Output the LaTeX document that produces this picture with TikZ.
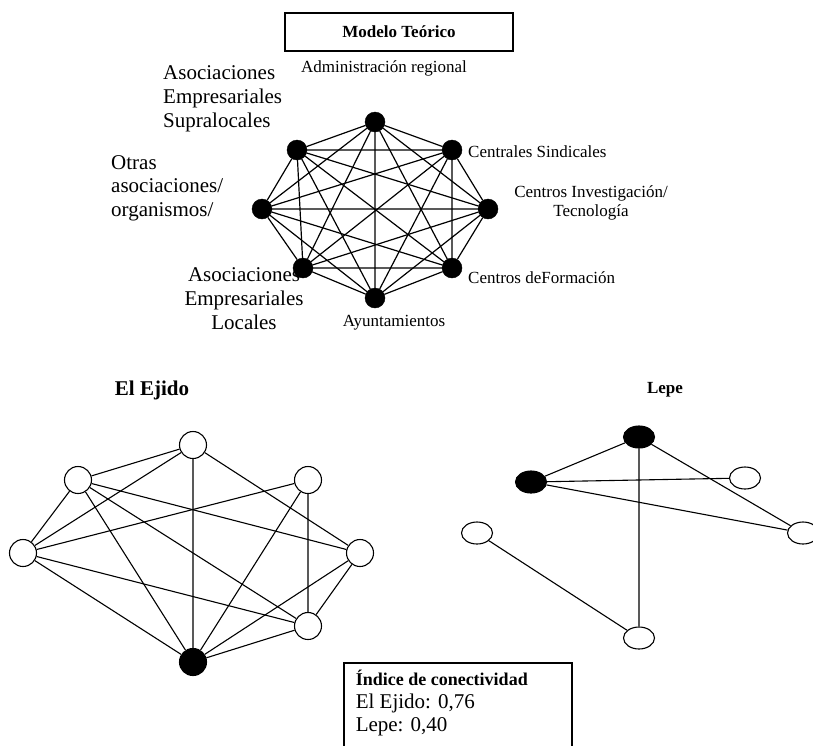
\documentclass[tikz,border=0pt]{standalone}
\usepackage{fontspec}
\setmainfont{Liberation Serif}
\usetikzlibrary{shapes.geometric}
\newlength{\du}
\setlength{\du}{10\unitlength}
\definecolor{dialinecolor}{rgb}{0.000000, 0.000000, 0.000000}
\tikzset{
  fullnode/.style={circle, draw=dialinecolor, fill=dialinecolor, inner sep=0pt, minimum size=2.000000\du},
  ejidonode/.style={circle, draw=dialinecolor, fill=white, inner sep=0pt, minimum size=2.700000\du, line width=0.110000\du},
  ejidofull/.style={ejidonode, fill=dialinecolor},
  lepenode/.style={ellipse, draw=dialinecolor, fill=white, inner sep=0pt, minimum width=3.100000\du, minimum height=2.200000\du, line width=0.110000\du},
  lepefull/.style={lepenode, fill=dialinecolor},
  smalltext/.style={inner sep=0pt, text=dialinecolor, font=\fontsize{17}{19}\selectfont},
  bigtext/.style={inner sep=0pt, text=dialinecolor, font=\fontsize{21}{24}\selectfont},
  titletext/.style={inner sep=0pt, text=dialinecolor, font=\bfseries\fontsize{17}{19}\selectfont},
}
\begin{document}
\begin{tikzpicture}
\pgftransformxscale{1.000000}
\pgftransformyscale{-1.000000}
\useasboundingbox (0\du,0\du) rectangle (81.300000\du,74.500000\du);
\definecolor{dialinecolor}{rgb}{0.000000, 0.000000, 0.000000}
\pgfsetstrokecolor{dialinecolor}
% setfont left to latex
\node[titletext, draw=dialinecolor, line width=0.150000\du, minimum width=22.800000\du, minimum height=3.800000\du] (titulo) at (39.900000\du,3.200000\du){Modelo Teórico};
% setfont left to latex
\node[smalltext] (admin) at (38.400000\du,6.800000\du){Administración regional};
\node[bigtext, anchor=west, align=left] (supra) at (16.300000\du,9.900000\du){Asociaciones\\Empresariales\\Supralocales};
\node[bigtext, anchor=west, align=left, font=\fontsize{21}{23.5}\selectfont] (otras) at (11.100000\du,18.800000\du){Otras\\asociaciones/\\organismos/};
\node[bigtext, align=center] (locales) at (24.400000\du,29.900000\du){Asociaciones\\Empresariales\\Locales};
\node[smalltext, anchor=west] (sindic) at (46.800000\du,15.200000\du){Centrales Sindicales};
\node[smalltext, align=center] (invest) at (59.100000\du,20.250000\du){Centros Investigación/\\Tecnología};
\node[smalltext, anchor=west] (formac) at (46.800000\du,27.800000\du){Centros deFormación};
\node[smalltext] (ayunt) at (39.400000\du,32.300000\du){Ayuntamientos};
% modelo teorico
\node[fullnode] (o1) at (37.500000\du,12.200000\du){};
\node[fullnode] (o2) at (45.200000\du,15.000000\du){};
\node[fullnode] (o3) at (48.800000\du,20.900000\du){};
\node[fullnode] (o4) at (45.200000\du,26.800000\du){};
\node[fullnode] (o5) at (37.500000\du,29.800000\du){};
\node[fullnode] (o6) at (30.300000\du,26.800000\du){};
\node[fullnode] (o7) at (26.200000\du,20.900000\du){};
\node[fullnode] (o8) at (29.700000\du,15.000000\du){};
\pgfsetlinewidth{0.120000\du}
\pgfsetdash{}{0pt}
\pgfsetbuttcap
\draw (o1)--(o2) (o1)--(o3) (o1)--(o4) (o1)--(o5) (o1)--(o6) (o1)--(o7) (o1)--(o8);
\draw (o2)--(o3) (o2)--(o4) (o2)--(o5) (o2)--(o6) (o2)--(o7) (o2)--(o8);
\draw (o3)--(o4) (o3)--(o5) (o3)--(o6) (o3)--(o7) (o3)--(o8);
\draw (o4)--(o5) (o4)--(o6) (o4)--(o7) (o4)--(o8);
\draw (o5)--(o6) (o5)--(o7) (o5)--(o8);
\draw (o6)--(o7) (o6)--(o8);
\draw (o7)--(o8);
% setfont left to latex
\node[bigtext, font=\bfseries\fontsize{21}{24}\selectfont] (ejido) at (15.200000\du,39.000000\du){El Ejido};
\node[titletext] (lepe) at (66.500000\du,39.000000\du){Lepe};
% el ejido
\node[ejidonode] (e1) at (19.300000\du,44.500000\du){};
\node[ejidonode] (e2) at (7.800000\du,48.000000\du){};
\node[ejidonode] (e3) at (2.300000\du,55.300000\du){};
\node[ejidonode] (e4) at (30.800000\du,48.000000\du){};
\node[ejidonode] (e5) at (36.000000\du,55.300000\du){};
\node[ejidonode] (e6) at (30.800000\du,62.600000\du){};
\node[ejidofull] (e7) at (19.300000\du,66.200000\du){};
\pgfsetlinewidth{0.110000\du}
\draw (e1)--(e2) (e1)--(e3) (e1)--(e5) (e1)--(e7);
\draw (e2)--(e3) (e2)--(e5) (e2)--(e6) (e2)--(e7);
\draw (e3)--(e4) (e3)--(e6) (e3)--(e7);
\draw (e4)--(e6) (e4)--(e7);
\draw (e5)--(e6) (e5)--(e7);
\draw (e6)--(e7);
% lepe
\node[lepefull] (l1) at (63.900000\du,43.700000\du){};
\node[lepefull] (l2) at (53.100000\du,48.200000\du){};
\node[lepenode] (l3) at (74.500000\du,47.800000\du){};
\node[lepenode] (l4) at (80.300000\du,53.300000\du){};
\node[lepenode] (l5) at (47.700000\du,53.300000\du){};
\node[lepenode] (l6) at (63.900000\du,63.800000\du){};
\draw (l1)--(l2) (l1)--(l4) (l1)--(l6);
\draw (l2)--(l3) (l2)--(l4);
\draw (l5)--(l6);
% indice
\pgfsetlinewidth{0.150000\du}
\draw (34.400000\du,66.300000\du) rectangle (57.200000\du,75.500000\du);
\node[titletext, font=\bfseries\fontsize{18}{20}\selectfont, anchor=west] (indice) at (35.500000\du,67.800000\du){Índice de conectividad};
\node[bigtext, anchor=west] (ejidoval) at (35.500000\du,70.300000\du){El Ejido: 0,76};
\node[bigtext, anchor=west] (lepeval) at (35.500000\du,72.700000\du){Lepe: 0,40};
\end{tikzpicture}
\end{document}
